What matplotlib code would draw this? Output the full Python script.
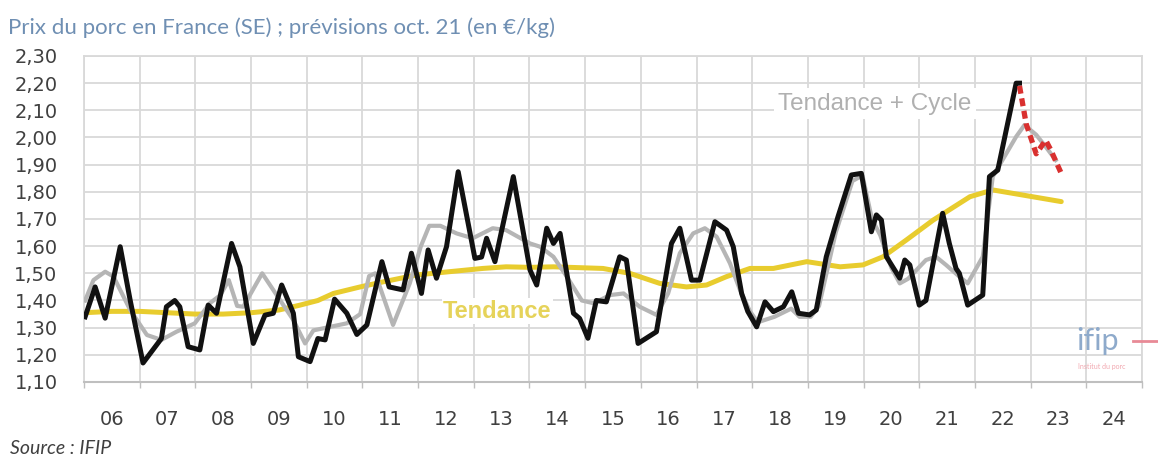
import numpy as np
import matplotlib
matplotlib.use('Agg')
import matplotlib.pyplot as plt
from matplotlib.ticker import FixedLocator, FuncFormatter

# Prix observé (date en années décimales, €/kg)
prix_dates = [2006.02, 2006.2, 2006.38, 2006.65, 2006.83, 2007.06, 2007.39, 2007.48,
              2007.63, 2007.72, 2007.87, 2008.08, 2008.23, 2008.38, 2008.65, 2008.8,
              2009.04, 2009.25, 2009.4, 2009.55, 2009.76, 2009.85, 2010.06, 2010.2,
              2010.33, 2010.5, 2010.72, 2010.9, 2011.08, 2011.35, 2011.48, 2011.73,
              2011.88, 2012.06, 2012.18, 2012.33, 2012.51, 2012.72, 2013.02, 2013.14,
              2013.23, 2013.38, 2013.71, 2014.01, 2014.13, 2014.31, 2014.43, 2014.55,
              2014.79, 2014.9, 2015.05, 2015.2, 2015.38, 2015.62, 2015.74, 2015.95,
              2016.28, 2016.55, 2016.7, 2016.91, 2017.06, 2017.33, 2017.54, 2017.66,
              2017.81, 2017.92, 2018.08, 2018.23, 2018.38, 2018.56, 2018.71, 2018.83,
              2019.03, 2019.15, 2019.33, 2019.54, 2019.78, 2019.96, 2020.14, 2020.23,
              2020.32, 2020.41, 2020.65, 2020.74, 2020.83, 2021.0, 2021.12, 2021.42,
              2021.54, 2021.66, 2021.72, 2021.87, 2022.14, 2022.26, 2022.41, 2022.74,
              2022.8]
prix = [1.34, 1.45, 1.335, 1.598, 1.40, 1.17, 1.26, 1.377,
        1.40, 1.377, 1.23, 1.218, 1.383, 1.353, 1.61, 1.524,
        1.242, 1.346, 1.353, 1.457, 1.353, 1.193, 1.175, 1.26,
        1.255, 1.405, 1.353, 1.275, 1.31, 1.543, 1.45, 1.439,
        1.574, 1.426, 1.586, 1.482, 1.598, 1.874, 1.555, 1.56,
        1.629, 1.543, 1.856, 1.512, 1.457, 1.666, 1.61, 1.647,
        1.353, 1.334, 1.261, 1.40, 1.395, 1.561, 1.549, 1.242,
        1.285, 1.61, 1.666, 1.475, 1.475, 1.69, 1.659, 1.598,
        1.426, 1.36, 1.303, 1.395, 1.359, 1.377, 1.432, 1.353,
        1.347, 1.365, 1.561, 1.708, 1.862, 1.868, 1.653, 1.715,
        1.696, 1.561, 1.482, 1.549, 1.531, 1.383, 1.40, 1.721,
        1.61, 1.518, 1.50, 1.383, 1.42, 1.856, 1.88, 2.20,
        2.20]

# Prévision
prev_dates = [2022.8, 2022.92, 2023.1, 2023.27, 2023.36, 2023.55]
prev = [2.19, 2.05, 1.94, 1.99, 1.955, 1.868]

# Tendance + cycle
cycle_dates = [2006.02, 2006.17, 2006.38, 2006.53, 2006.83, 2007.13, 2007.39, 2007.66,
               2007.99, 2008.26, 2008.45, 2008.6, 2008.75, 2008.86, 2009.2, 2009.46,
               2009.76, 2009.97, 2010.12, 2010.42, 2010.72, 2010.96, 2011.12, 2011.23,
               2011.55, 2011.85, 2012.05, 2012.2, 2012.4, 2012.69, 2012.98, 2013.34,
               2013.58, 2014.01, 2014.19, 2014.43, 2014.67, 2014.94, 2015.15, 2015.45,
               2015.69, 2015.98, 2016.28, 2016.49, 2016.7, 2016.94, 2017.15, 2017.36,
               2017.6, 2017.78, 2017.96, 2018.1, 2018.4, 2018.7, 2018.85, 2019.05,
               2019.2, 2019.5, 2019.8, 2019.98, 2020.15, 2020.3, 2020.5, 2020.65,
               2020.8, 2021.12, 2021.3, 2021.48, 2021.72, 2021.87, 2022.14, 2022.32,
               2022.74, 2022.89, 2023.1, 2023.27, 2023.45]
cycle = [1.40, 1.475, 1.506, 1.488, 1.365, 1.273, 1.255, 1.285,
         1.316, 1.39, 1.42, 1.475, 1.38, 1.377, 1.50, 1.42,
         1.328, 1.242, 1.29, 1.303, 1.316, 1.35, 1.49, 1.50,
         1.31, 1.463, 1.60, 1.675, 1.675, 1.647, 1.629, 1.666,
         1.659, 1.61, 1.598, 1.561, 1.488, 1.40, 1.39, 1.42,
         1.426, 1.377, 1.347, 1.426, 1.574, 1.647, 1.666, 1.635,
         1.537, 1.439, 1.36, 1.32, 1.34, 1.37, 1.34, 1.34,
         1.38, 1.65, 1.84, 1.86, 1.70, 1.64, 1.52, 1.463,
         1.48, 1.549, 1.561, 1.531, 1.488, 1.463, 1.561, 1.856,
         2.003, 2.046, 2.01, 1.966, 1.917]

# Tendance
tend_dates = [2006.0, 2006.5, 2007.0, 2007.5, 2008.0, 2008.5, 2009.0, 2009.5,
              2009.88, 2010.2, 2010.48, 2010.96, 2011.38, 2011.97, 2012.56, 2013.16,
              2013.58, 2014.01, 2014.43, 2015.32, 2015.8, 2016.34, 2016.82, 2017.18,
              2017.54, 2017.96, 2018.38, 2018.98, 2019.58, 2019.99, 2020.35, 2020.77,
              2021.25, 2021.91, 2022.32, 2023.55]
tend = [1.355, 1.36, 1.36, 1.355, 1.35, 1.35, 1.355, 1.365,
        1.383, 1.40, 1.426, 1.45, 1.469, 1.494, 1.506, 1.518,
        1.524, 1.522, 1.524, 1.518, 1.50, 1.463, 1.45, 1.457,
        1.488, 1.518, 1.518, 1.543, 1.524, 1.531, 1.561, 1.623,
        1.696, 1.782, 1.807, 1.764]

years = list(range(2006, 2025))

grid_col = '#d9d9d9'

fig = plt.figure(figsize=(11.58, 4.59), dpi=100)
ax = fig.add_axes([84 / 1158, 1 - 382 / 459, (1142 - 84) / 1158, (382 - 56) / 459])

ax.plot(tend_dates, tend, color='#e8cc2e', lw=3.6, zorder=2, solid_capstyle='round')
ax.plot(cycle_dates, cycle, color='#b5b5b5', lw=3.0, zorder=3)
ax.plot(prix_dates, prix, color='#111111', lw=3.6, zorder=4, solid_joinstyle='round')
ax.plot(prev_dates, prev, color='#d9302f', lw=3.8, zorder=5, dashes=(1.5, 0.9))

ax.set_xlim(2006, 2025)
ax.set_ylim(1.10, 2.30)

ax.xaxis.set_major_locator(FixedLocator(years + [2025]))
ax.xaxis.set_minor_locator(FixedLocator([y + 0.5 for y in years]))
ax.xaxis.set_major_formatter(FuncFormatter(lambda v, p: ''))
ax.xaxis.set_minor_formatter(FuncFormatter(lambda v, p: '%02d' % (int(v) % 100)))
ax.tick_params(axis='x', which='major', length=4, color='#bfbfbf', width=1)
ax.tick_params(axis='x', which='minor', length=0, pad=20, labelsize=14, labelcolor='#404040')

ax.set_yticks(np.round(np.arange(1.10, 2.301, 0.10), 2))
ax.yaxis.set_major_formatter(FuncFormatter(lambda v, p: ('%.2f' % v).replace('.', ',')))
ax.tick_params(axis='y', length=0, pad=19, labelsize=14, labelcolor='#404040')

ax.grid(True, which='major', color=grid_col, lw=1.3, zorder=0)
ax.set_axisbelow(True)
for side in ['top', 'right', 'left']:
    ax.spines[side].set_color(grid_col)
    ax.spines[side].set_linewidth(1.3)
ax.spines['bottom'].set_color('#bfbfbf')
ax.spines['bottom'].set_linewidth(1.5)

ax.text(2020.2, 2.125, 'Tendance + Cycle', color='#b0b0b0', fontsize=17.5,
        family='Liberation Sans', ha='center', va='center', zorder=1.5,
        bbox=dict(facecolor='white', edgecolor='none', pad=3))
ax.text(2013.42, 1.36, 'Tendance', color='#e6d35a', fontsize=17, fontweight='bold',
        family='Liberation Sans', ha='center', va='center', zorder=1.5,
        bbox=dict(facecolor='white', edgecolor='none', pad=1))

fig.text(8 / 1158, 1 - 28 / 459, 'Prix du porc en France (SE) ; prévisions oct. 21 (en €/kg)',
         color='#6f8fb3', fontsize=16, family='Lato', ha='left', va='center')
fig.text(10 / 1158, 1 - 449 / 459, 'Source : IFIP', color='#404040', fontsize=14,
         family='Lato', style='italic', ha='left', va='center')

# logo ifip
fig.text(1076 / 1158, 1 - 341 / 459, 'ifip', color='#8eaacb', fontsize=22,
         family='Lato', ha='left', va='center')
fig.lines.append(plt.Line2D([1133 / 1158, 1.0], [1 - 341 / 459, 1 - 341 / 459],
                            transform=fig.transFigure, color='#e88a96', lw=2))
fig.text(1078 / 1158, 1 - 366 / 459, 'Institut du porc', color='#f2a8b0', fontsize=5,
         family='Lato', ha='left', va='center')

fig.savefig('out.png', dpi=100)
